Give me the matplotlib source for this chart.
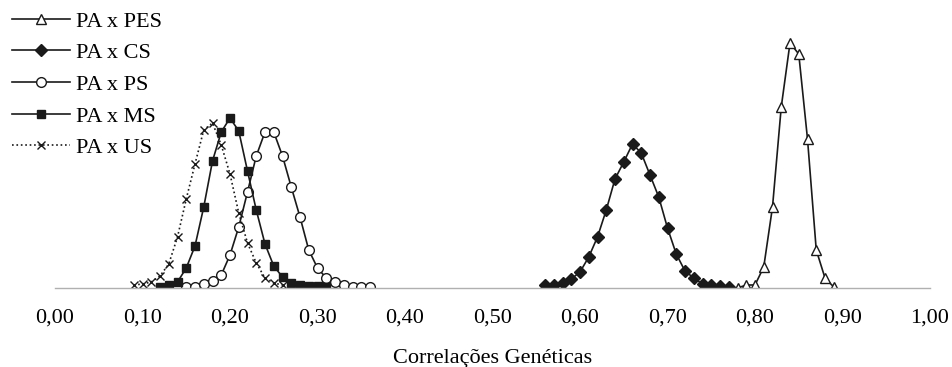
import matplotlib
matplotlib.use("Agg")
import matplotlib.pyplot as plt

plt.rcParams['font.family'] = ['Liberation Serif', 'DejaVu Serif']

# correlation values (x) and frequencies (y)
pes_x = [0.78, 0.79, 0.80, 0.81, 0.82, 0.83, 0.84, 0.85, 0.86, 0.87, 0.88, 0.89]
pes_y = [0, 3, 3, 21, 81, 181, 245, 234, 149, 38, 10, 1]

cs_x = [0.56, 0.57, 0.58, 0.59, 0.60, 0.61, 0.62, 0.63, 0.64, 0.65, 0.66,
        0.67, 0.68, 0.69, 0.70, 0.71, 0.72, 0.73, 0.74, 0.75, 0.76, 0.77]
cs_y = [3, 3, 5, 9, 16, 31, 51, 78, 109, 126, 144,
        135, 113, 91, 60, 34, 17, 10, 4, 3, 2, 1]

ps_x = [0.15, 0.16, 0.17, 0.18, 0.19, 0.20, 0.21, 0.22, 0.23, 0.24, 0.25,
        0.26, 0.27, 0.28, 0.29, 0.30, 0.31, 0.32, 0.33, 0.34, 0.35, 0.36]
ps_y = [1, 1, 4, 7, 13, 33, 61, 96, 132, 156, 156,
        132, 101, 71, 38, 20, 10, 6, 3, 1, 1, 1]

ms_x = [0.12, 0.13, 0.14, 0.15, 0.16, 0.17, 0.18, 0.19, 0.20, 0.21,
        0.22, 0.23, 0.24, 0.25, 0.26, 0.27, 0.28, 0.29, 0.30, 0.31]
ms_y = [1, 3, 6, 20, 42, 81, 127, 156, 170, 157,
        117, 78, 44, 22, 11, 5, 3, 2, 2, 1]

us_x = [0.09, 0.10, 0.11, 0.12, 0.13, 0.14, 0.15, 0.16, 0.17,
        0.18, 0.19, 0.20, 0.21, 0.22, 0.23, 0.24, 0.25, 0.26]
us_y = [3, 4, 6, 12, 24, 51, 89, 124, 158,
        165, 143, 114, 75, 45, 25, 10, 5, 3]

xticks = [0.0, 0.1, 0.2, 0.3, 0.4, 0.5, 0.6, 0.7, 0.8, 0.9, 1.0]
xtick_labels = ["0,00", "0,10", "0,20", "0,30", "0,40", "0,50",
                "0,60", "0,70", "0,80", "0,90", "1,00"]

fig = plt.figure(figsize=(9.52, 3.67), dpi=100)
ax = fig.add_axes([55/952, 1-288/367, 875/952, 268/367])

lc = '#1a1a1a'
ax.plot(pes_x, pes_y, '-', color=lc, lw=1.2, marker='^', ms=7.5,
        mfc='white', mec=lc, mew=1.0, label='PA x PES')
ax.plot(cs_x, cs_y, '-', color=lc, lw=1.2, marker='D', ms=6.5,
        mfc=lc, mec=lc, label='PA x CS')
ax.plot(ps_x, ps_y, '-', color=lc, lw=1.2, marker='o', ms=7,
        mfc='white', mec=lc, mew=1.0, label='PA x PS')
ax.plot(ms_x, ms_y, '-', color=lc, lw=1.2, marker='s', ms=5.5,
        mfc=lc, mec=lc, label='PA x MS')
ax.plot(us_x, us_y, ':', color=lc, lw=1.2, marker='x', ms=6,
        mec=lc, mew=1.0, label='PA x US')

ax.set_xlim(0, 1)
ax.set_ylim(0, 268)
ax.set_xticks(xticks)
ax.set_xticklabels(xtick_labels, fontsize=16)
ax.set_yticks([])
ax.tick_params(axis='x', length=0, pad=14.5)
for s in ['top', 'right', 'left']:
    ax.spines[s].set_visible(False)
ax.spines['bottom'].set_color('#b0b0b0')
ax.spines['bottom'].set_linewidth(1.0)
ax.set_xlabel("Correlações Genéticas", fontsize=16, labelpad=16)

leg = ax.legend(loc='upper left', bbox_to_anchor=(12/952, 1-11/367),
                bbox_transform=fig.transFigure, frameon=False, fontsize=16,
                handlelength=2.6, handletextpad=0.3, labelspacing=0.5,
                numpoints=1, borderpad=0, borderaxespad=0)

fig.savefig("out.png", dpi=100)
